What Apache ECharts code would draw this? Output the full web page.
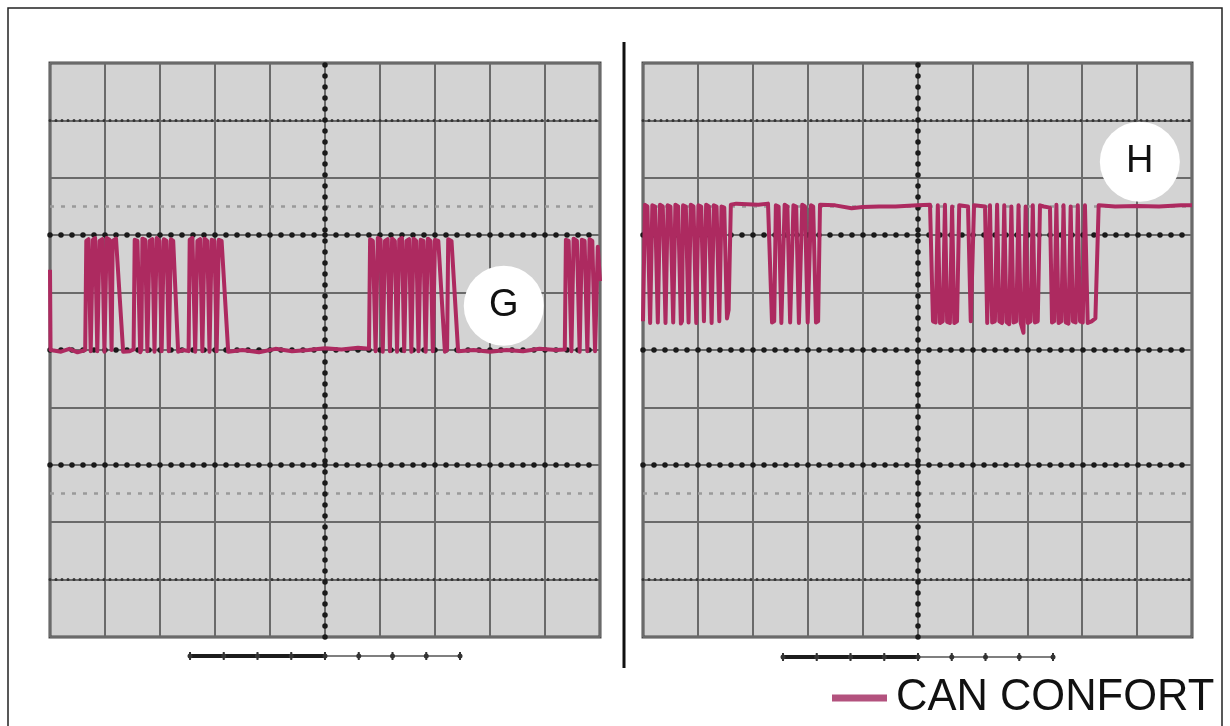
<!DOCTYPE html>
<html>
<head>
<meta charset="utf-8">
<script src="https://cdn.jsdelivr.net/npm/echarts@6/dist/echarts.min.js"></script>
<style>
html,body{margin:0;padding:0;background:#fff;}
#chart{width:1230px;height:726px;}
</style>
</head>
<body>
<div id="chart"></div>
<script>
// ---- data (screen divisions: x 0..10, y 0..10 from bottom) ----
const seriesName = 'CAN CONFORT';
const gridDivisions = 10;
const boldDotRows = [7, 5, 3];
const fineDotRows = [9, 1];
const dashRows = [7.5, 2.5];
const centerCol = [5];
const markerG = [[8.25, 5.77]];
const markerH = [[9.05, 8.28]];
const labelG = 'G';
const labelH = 'H';

const traceG = [
  [0,6.4],[0.01,5.0],[0.2,4.97],[0.35,5.02],[0.5,4.96],[0.64,5.0],
  [0.66,6.9],[0.7,6.93],[0.74,4.98],
  [0.76,5.0],[0.78,6.92],[0.82,6.95],[0.86,4.98],
  [0.88,5.0],[0.9,6.9],[0.95,6.93],[0.99,4.97],
  [1.01,5.0],[1.03,6.95],[1.08,6.92],[1.12,5.0],
  [1.14,6.9],[1.2,6.94],[1.33,4.97],
  [1.45,4.98],[1.52,5.01],
  [1.54,6.92],[1.59,6.9],[1.64,4.96],
  [1.66,5.0],[1.68,6.94],[1.73,6.92],[1.77,4.98],
  [1.79,5.0],[1.81,6.9],[1.86,6.93],[1.9,4.97],
  [1.92,5.0],[1.94,6.95],[1.99,6.9],[2.03,4.98],
  [2.05,5.0],[2.07,6.93],[2.12,6.9],[2.16,4.98],
  [2.18,5.0],[2.2,6.93],[2.24,6.9],[2.33,4.97],
  [2.42,5.0],[2.52,4.98],
  [2.54,6.92],[2.59,6.95],[2.64,4.97],
  [2.66,5.0],[2.68,6.9],[2.73,6.93],[2.77,4.98],
  [2.79,5.0],[2.81,6.94],[2.86,6.9],[2.9,4.97],
  [2.92,5.0],[2.94,6.92],[2.99,6.9],[3.03,4.98],
  [3.05,5.0],[3.07,6.92],[3.12,6.9],[3.24,4.97],
  [3.5,5.0],[3.8,4.96],[4.1,5.02],[4.4,4.98],[4.7,5.0],[5.0,5.03],[5.3,5.01],[5.6,5.04],[5.8,5.02],
  [5.82,6.93],[5.87,6.9],[5.92,4.98],
  [5.94,5.0],[5.96,6.95],[6.01,6.92],[6.05,4.97],
  [6.07,5.0],[6.09,6.9],[6.14,6.93],[6.18,4.98],
  [6.2,5.0],[6.22,6.94],[6.27,6.9],[6.31,4.97],
  [6.33,5.0],[6.35,6.92],[6.4,6.95],[6.44,4.98],
  [6.46,5.0],[6.48,6.9],[6.53,6.93],[6.57,4.97],
  [6.59,5.0],[6.61,6.94],[6.66,6.9],[6.7,4.98],
  [6.72,5.0],[6.74,6.92],[6.79,6.9],[6.83,4.97],
  [6.85,5.0],[6.87,6.94],[6.92,6.9],[6.96,4.98],
  [6.98,5.0],[7.0,6.92],[7.06,6.9],[7.18,4.97],
  [7.22,5.0],[7.24,6.93],[7.3,6.9],[7.42,4.98],
  [7.7,5.0],[8.0,4.97],[8.3,5.0],[8.6,4.98],[8.9,5.02],[9.2,5.0],[9.36,5.01],
  [9.38,6.92],[9.43,6.9],[9.48,4.98],
  [9.5,5.0],[9.52,6.94],[9.58,6.9],[9.63,4.97],
  [9.65,5.0],[9.67,6.92],[9.72,6.9],[9.77,4.98],
  [9.79,5.0],[9.81,6.93],[9.86,6.9],[9.91,4.98],
  [9.94,5.0],[9.96,6.8],[10,6.2]
];

const traceH = [
  [0,5.5],[0.02,5.48],[0.036,7.53],[0.08,7.5],[0.13,5.47],
  [0.15,5.5],[0.17,7.52],[0.22,7.5],[0.27,5.48],
  [0.29,5.5],[0.31,7.53],[0.36,7.5],[0.41,5.47],
  [0.43,5.5],[0.45,7.52],[0.5,7.5],[0.55,5.48],
  [0.57,5.5],[0.59,7.53],[0.64,7.5],[0.69,5.46],
  [0.71,5.5],[0.73,7.52],[0.78,7.5],[0.83,5.48],
  [0.85,5.5],[0.87,7.53],[0.92,7.5],[0.97,5.47],
  [0.99,5.5],[1.01,7.52],[1.06,7.5],[1.11,5.5],
  [1.13,5.5],[1.15,7.53],[1.2,7.5],[1.25,5.47],
  [1.27,5.5],[1.29,7.52],[1.34,7.5],[1.39,5.5],
  [1.41,5.52],[1.43,7.5],[1.48,7.48],[1.53,5.55],
  [1.56,5.7],[1.6,7.53],[1.7,7.55],[1.9,7.54],[2.1,7.53],[2.277,7.55],
  [2.35,5.48],[2.39,5.5],[2.42,7.52],[2.47,7.5],[2.52,5.47],
  [2.55,5.5],[2.58,7.53],[2.63,7.5],[2.68,5.48],
  [2.71,5.5],[2.74,7.52],[2.79,7.5],[2.84,5.47],
  [2.87,5.5],[2.9,7.53],[2.95,7.5],[3.0,5.48],
  [3.03,5.5],[3.06,7.52],[3.1,7.5],[3.151,5.48],
  [3.19,5.5],[3.224,7.53],[3.5,7.52],[3.8,7.47],[4.0,7.49],[4.3,7.5],[4.6,7.5],[5.0,7.52],[5.228,7.53],
  [5.282,5.5],[5.33,5.48],[5.37,7.52],
  [5.41,5.47],[5.46,5.5],[5.5,7.53],
  [5.54,5.49],[5.59,5.47],[5.63,7.5],
  [5.67,5.47],[5.72,5.5],[5.76,7.52],
  [5.92,7.5],[5.97,5.5],[6.03,7.52],
  [6.23,7.5],[6.27,5.47],[6.32,7.52],
  [6.36,5.48],[6.41,5.5],[6.45,7.53],
  [6.49,5.5],[6.54,5.47],[6.58,7.52],
  [6.62,5.49],[6.67,5.45],[6.71,7.5],
  [6.75,5.48],[6.8,5.5],[6.84,7.52],
  [6.88,5.47],[6.93,5.3],[6.97,7.5],
  [7.01,5.47],[7.06,5.5],[7.1,7.52],
  [7.14,5.48],[7.19,5.5],[7.231,7.52],
  [7.3,7.5],[7.413,7.48],
  [7.45,5.48],[7.49,5.5],[7.53,7.53],
  [7.57,5.47],[7.62,5.5],[7.66,7.52],
  [7.7,5.48],[7.75,5.46],[7.79,7.5],
  [7.83,5.5],[7.88,5.48],[7.92,7.52],
  [7.96,5.5],[8.01,5.48],[8.05,7.52],
  [8.1,5.47],[8.17,5.5],[8.24,5.55],[8.3,7.52],
  [8.6,7.5],[9.0,7.51],[9.4,7.5],[9.8,7.52],[10,7.52]
];

// ---- styles ----
const traceColor = '#ad2a60';
const panelBg = '#d3d3d3';
const gridLineColor = '#6a6a6a';

const chart = echarts.init(document.getElementById('chart'), null, {renderer: 'canvas'});

const grids = [
  {left: 50, top: 63, width: 550, height: 574},
  {left: 643, top: 63, width: 549, height: 574}
];

function axisX(i) {
  return {
    type: 'value', gridIndex: i, min: 0, max: gridDivisions, interval: 1,
    axisLine: {show: false}, axisTick: {show: false}, axisLabel: {show: false},
    splitLine: {show: true, lineStyle: {color: gridLineColor, width: 2}}
  };
}
function axisY(i) { return axisX(i); }

function guideSeries(i) {
  const mk = (vals, key, style) => vals.map(v => ({[key]: v, lineStyle: style}));
  const boldDot = {color: '#1a1a1a', width: 5.5, type: [0, 11], cap: 'round'};
  const fineDot = {color: '#333', width: 3, type: [0, 6], cap: 'round'};
  const dash = {color: '#9a9a9a', width: 2.5, type: [4, 7]};
  return {
    type: 'line', xAxisIndex: i, yAxisIndex: i, data: [], silent: true,
    markLine: {
      silent: true, symbol: 'none', animation: false,
      label: {show: false},
      data: [].concat(
        mk(dashRows, 'yAxis', dash),
        mk(fineDotRows, 'yAxis', fineDot),
        mk(boldDotRows, 'yAxis', boldDot),
        mk(centerCol, 'xAxis', boldDot)
      )
    }
  };
}

function traceSeries(i, data) {
  return {
    name: seriesName, type: 'line', xAxisIndex: i, yAxisIndex: i,
    data: data, showSymbol: false, symbol: 'none',
    lineStyle: {color: traceColor, width: 4, join: 'round'},
    itemStyle: {color: traceColor}, z: 5
  };
}

function markerSeries(i, data, text) {
  return {
    type: 'scatter', xAxisIndex: i, yAxisIndex: i, data: data,
    symbol: 'circle', symbolSize: 80, silent: true, z: 10,
    itemStyle: {color: '#ffffff', opacity: 1},
    label: {show: true, position: 'inside', formatter: text, fontSize: 38,
      fontFamily: 'Liberation Sans, Arial, sans-serif', color: '#111'}
  };
}

// scale bars beneath panels
function scaleBar(x0, x1, xm, y) {
  const els = [
    {type: 'line', shape: {x1: x0, y1: y, x2: xm, y2: y}, style: {stroke: '#1c1c1c', lineWidth: 4}},
    {type: 'line', shape: {x1: xm, y1: y, x2: x1, y2: y}, style: {stroke: '#555', lineWidth: 1.5}}
  ];
  const step = (x1 - x0) / 8;
  for (let k = 0; k <= 8; k++) {
    const x = x0 + k * step;
    els.push({type: 'line', shape: {x1: x, y1: y - 4, x2: x, y2: y + 4}, style: {stroke: '#333', lineWidth: 2}});
    els.push({type: 'circle', shape: {cx: x, cy: y, r: 2.5}, style: {fill: '#333'}});
  }
  return els;
}

const option = {
  animation: false,
  backgroundColor: '#ffffff',
  grid: grids.map(g => Object.assign({show: true, backgroundColor: panelBg, borderColor: '#4a4a4a', borderWidth: 3}, g)),
  xAxis: [axisX(0), axisX(1)],
  yAxis: [axisY(0), axisY(1)],
  legend: {
    data: [{name: seriesName, icon: 'rect', itemStyle: {color: '#b3527e'}}],
    left: 832, top: 676, padding: 0, itemWidth: 55, itemHeight: 7, itemGap: 10,
    textStyle: {fontSize: 43.5, color: '#111', fontFamily: 'Liberation Sans, Arial, sans-serif', padding: [0, 0, 0, 4]},
    selectedMode: false
  },
  graphic: [
    {type: 'rect', shape: {x: 8, y: 8, width: 1214, height: 740}, style: {fill: 'none', stroke: '#222', lineWidth: 1.5}, z: 100},
    {type: 'line', shape: {x1: 624, y1: 42, x2: 624, y2: 668}, style: {stroke: '#111', lineWidth: 3}, z: 100}
  ].concat(scaleBar(190, 460, 325, 656), scaleBar(783, 1053, 918, 657)),
  series: [
    guideSeries(0), guideSeries(1),
    traceSeries(0, traceG), traceSeries(1, traceH),
    markerSeries(0, markerG, labelG), markerSeries(1, markerH, labelH)
  ]
};
chart.setOption(option);
</script>
</body>
</html>
